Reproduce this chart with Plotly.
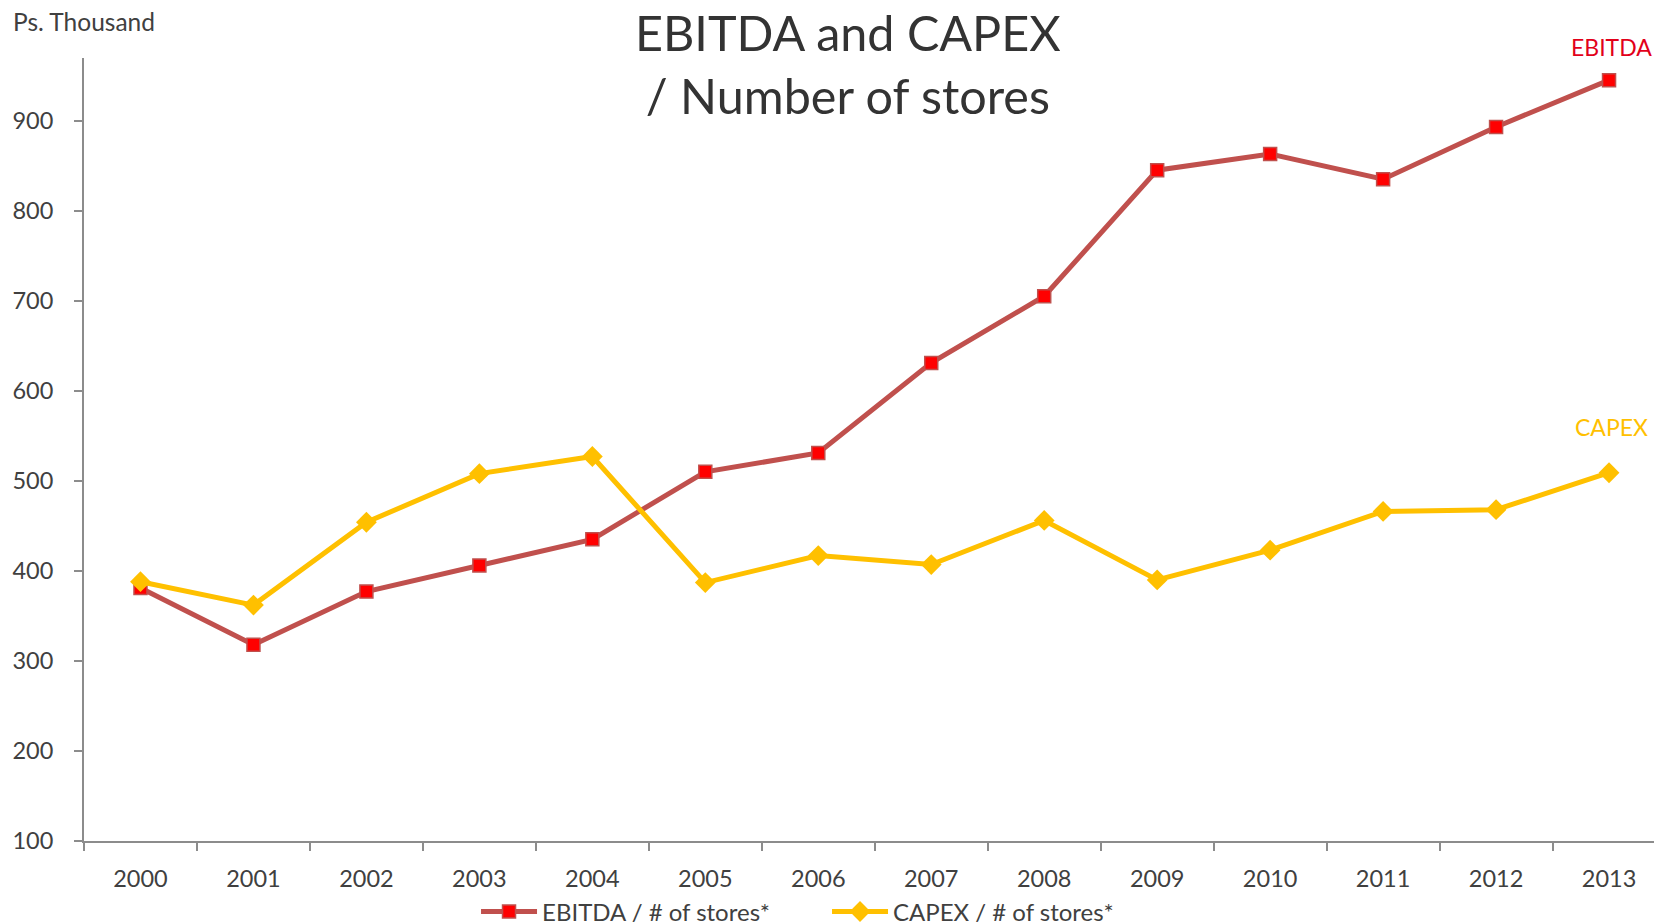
import plotly.graph_objects as go

# Yearly figures, Ps. thousand per store
years = ["2000", "2001", "2002", "2003", "2004", "2005", "2006",
         "2007", "2008", "2009", "2010", "2011", "2012", "2013"]
ebitda_per_store = [381, 318, 377, 406, 435, 510, 531, 631, 705, 845, 863, 835, 893, 945]
capex_per_store = [388, 362, 454, 508, 527, 387, 417, 407, 456, 390, 423, 466, 468, 509]
y_ticks = [100, 200, 300, 400, 500, 600, 700, 800, 900]

FONT = "Lato, 'Noto Sans', sans-serif"
TEXT = "#404040"
AXIS = "#8c8c8c"
RED_LINE = "#C0504D"
RED_MARK = "#FF0000"
GOLD = "#FFC000"

X_MIN, X_MAX = -0.5, 13.398
last_frac = (len(years) - 1 - X_MIN) / (X_MAX - X_MIN)

fig = go.Figure()
fig.add_trace(go.Scatter(
    x=years, y=ebitda_per_store, name="EBITDA / # of stores*",
    mode="lines+markers",
    line=dict(color=RED_LINE, width=5),
    marker=dict(symbol="square", size=13, color=RED_MARK,
                line=dict(color=RED_LINE, width=1.5)),
))
fig.add_trace(go.Scatter(
    x=years, y=capex_per_store, name="CAPEX / # of stores*",
    mode="lines+markers",
    line=dict(color=GOLD, width=5),
    marker=dict(symbol="diamond", size=16, color=GOLD,
                line=dict(color=GOLD, width=0)),
))

# Series labels above the last point
fig.add_annotation(xref="paper", yref="y", x=last_frac, y=ebitda_per_store[-1],
                   xanchor="center", yanchor="middle",
                   text="EBITDA", showarrow=False, yshift=33, xshift=2,
                   font=dict(family=FONT, size=23, color="#E2001A"))
fig.add_annotation(xref="paper", yref="y", x=last_frac, y=capex_per_store[-1],
                   xanchor="center", yanchor="middle",
                   text="CAPEX", showarrow=False, yshift=46, xshift=2,
                   font=dict(family=FONT, size=23, color=GOLD))

# Unit label
fig.add_annotation(xref="paper", yref="paper", x=-0.0465, y=1.046,
                   xanchor="left", yanchor="middle", showarrow=False,
                   text="Ps. Thousand",
                   font=dict(family=FONT, size=24.5, color=TEXT))

# Two-line title
fig.add_annotation(xref="paper", yref="paper", x=0.4866, y=1.071,
                   xanchor="center", yanchor="top", showarrow=False,
                   borderpad=0,
                   text="EBITDA and CAPEX<br>/ Number of stores",
                   font=dict(family=FONT, size=48.5, color="#333333"))

fig.update_layout(
    width=1654, height=923,
    paper_bgcolor="white", plot_bgcolor="white",
    margin=dict(l=84, r=0, t=58, b=82, autoexpand=False),
    font=dict(family=FONT, size=23, color=TEXT),
    showlegend=True,
    legend=dict(orientation="h", x=0.2497, xanchor="left",
                y=0.012, yref="container", yanchor="middle",
                itemwidth=56, entrywidth=280, entrywidthmode="pixels",
                font=dict(family=FONT, size=24, color=TEXT),
                bgcolor="rgba(0,0,0,0)"),
    xaxis=dict(type="category", range=[X_MIN, X_MAX],
               showline=True, linecolor=AXIS, linewidth=2,
               ticks="outside", tickson="boundaries", ticklen=8,
               tickcolor=AXIS, tickwidth=2, showgrid=False,
               zeroline=False, ticklabelstandoff=16,
               tickfont=dict(family=FONT, size=23.5, color=TEXT)),
    yaxis=dict(range=[100, 969.6], tickvals=y_ticks,
               showline=True, linecolor=AXIS, linewidth=2,
               ticks="outside", ticklen=8, tickcolor=AXIS, tickwidth=2,
               showgrid=False, zeroline=False, ticklabelstandoff=16,
               tickfont=dict(family=FONT, size=23.5, color=TEXT)),
)

fig.write_html("out.html")
